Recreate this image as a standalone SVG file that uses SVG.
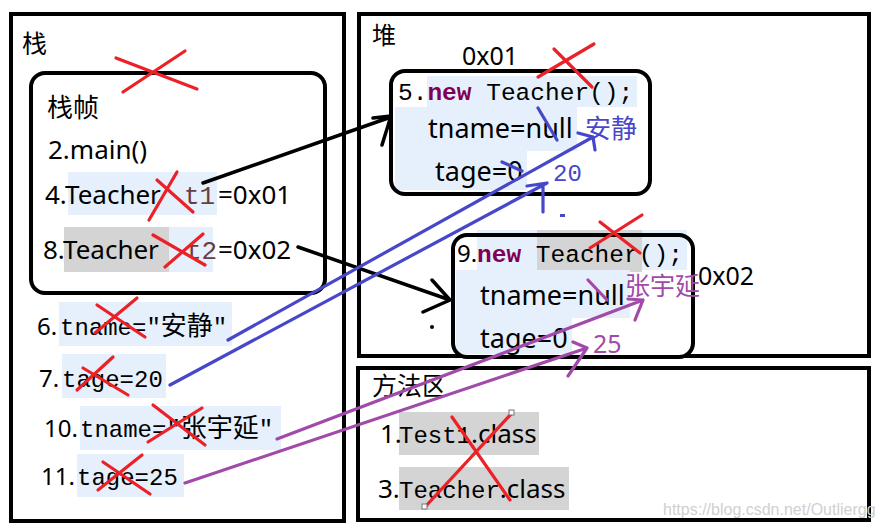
<svg xmlns="http://www.w3.org/2000/svg" width="885" height="529" viewBox="0 0 885 529">
<defs>
<style>
.box{fill:#fff;stroke:#000;stroke-width:4}
.frame{fill:none;stroke:#000;stroke-width:4}
.hl{fill:#e6f0fc}
.gr{fill:#d4d4d4}
.sans{font-family:"Noto Sans","Open Sans","Noto Sans CJK SC",sans-serif;fill:#000}
.cjk{font-family:"Noto Sans CJK SC","Noto Sans",sans-serif;fill:#000}
.mono{font-family:"Liberation Mono","DejaVu Sans Mono","Noto Sans CJK SC",monospace;fill:#000}
.kw{fill:#7f0055;font-weight:bold}
.var{fill:#6a3e3e}
.x{stroke:#ec2127;stroke-width:3.2;stroke-linecap:round;fill:none}
.blk{stroke:#000;stroke-width:3.5;fill:none;stroke-linecap:round;stroke-linejoin:round}
.blu{stroke:#4747c9;stroke-width:3.2;fill:none;stroke-linecap:round;stroke-linejoin:round}
.pur{stroke:#a14aa9;stroke-width:3.2;fill:none;stroke-linecap:round;stroke-linejoin:round}
</style>
</defs>
<rect width="885" height="529" fill="#fff"/>

<g id="stack">
<rect class="box" x="11" y="14" width="333" height="507"/>
<text class="cjk" x="22" y="53" font-size="25">栈</text>
<rect class="hl" x="59" y="302" width="173" height="44"/>
<rect class="hl" x="62" y="354" width="104" height="44"/>
<rect class="hl" x="80" y="406" width="201" height="44"/>
<rect class="hl" x="77" y="454" width="107" height="43"/>
<text y="335"><tspan class="sans" x="37" font-size="24">6.</tspan><tspan class="mono" x="60" font-size="24">tname="<tspan class="cjk" font-size="26">安静</tspan>"</tspan></text>
<text y="387"><tspan class="sans" x="39" font-size="24">7.</tspan><tspan class="mono" x="62" font-size="24">tage=20</tspan></text>
<text y="437"><tspan class="sans" x="44" font-size="24">10.</tspan><tspan class="mono" x="80" font-size="24">tname="<tspan class="cjk" font-size="26">张宇延</tspan>"</tspan></text>
<text y="485"><tspan class="sans" x="41" font-size="24">11.</tspan><tspan class="mono" x="77" font-size="24">tage=25</tspan></text>
</g>

<g id="stack-frame">
<rect class="box" x="31" y="73" width="294" height="220" rx="14"/>
<rect class="hl" x="68" y="172" width="149" height="43"/>
<rect class="gr" x="64" y="227" width="105" height="45"/>
<rect class="hl" x="169" y="227" width="44" height="45"/>
<text class="cjk" x="47" y="117" font-size="26">栈帧</text>
<text class="sans" x="48" y="159" font-size="26">2.main()</text>
<text y="204"><tspan class="sans" x="45" font-size="26">4.Teacher</tspan><tspan class="mono var" x="184" font-size="26">t1</tspan><tspan class="sans" x="218" font-size="26">=0x01</tspan></text>
<text y="259"><tspan class="sans" x="43" font-size="26">8.Teacher</tspan><tspan class="mono var" x="186" font-size="26">t2</tspan><tspan class="sans" x="218" font-size="26">=0x02</tspan></text>
</g>

<g id="heap">
<rect class="box" x="359" y="14" width="510" height="342"/>
<text class="cjk" x="372" y="44" font-size="24">堆</text>
<text class="sans" x="462" y="65" font-size="25">0x01</text>
<text class="sans" x="698" y="285" font-size="25">0x02</text>
<circle cx="432" cy="327" r="2" fill="#000"/>
</g>

<g id="teacher-0x01">
<rect fill="#fff" x="391" y="71" width="259" height="123" rx="14"/>
<rect class="hl" x="427" y="76" width="210" height="31"/>
<path class="hl" d="M395,107 H577 V151 H527 V190 H395 Z"/>
<rect class="frame" x="391" y="71" width="259" height="123" rx="14"/>
<text class="mono" x="398" y="100" font-size="24.5">5.<tspan class="kw">new</tspan> Teacher();</text>
<text class="sans" x="428" y="138" font-size="27">tname=null</text>
<text class="cjk" x="585" y="138" font-size="26" fill="#4747c9" style="fill:#4747c9">安静</text>
<text class="sans" x="435" y="181" font-size="27">tage=0</text>
<text class="mono" x="553" y="181" font-size="24" style="fill:#4747c9">20</text>
</g>

<g id="teacher-0x02">
<rect fill="#fff" x="453" y="235" width="240" height="122" rx="14"/>
<rect class="hl" x="477" y="230" width="210" height="40"/>
<rect class="gr" x="537" y="230" width="105" height="42"/>
<path class="hl" d="M456,270 H630 V318 H572 V354 H456 Z"/>
<rect class="frame" x="453" y="235" width="240" height="122" rx="14"/>
<text y="262"><tspan class="sans" x="457" font-size="24">9.</tspan><tspan class="mono" x="477" font-size="24.5"><tspan class="kw">new</tspan> Teacher();</tspan></text>
<text class="sans" x="480" y="305" font-size="27">tname=null</text>
<text class="cjk" x="625" y="295" font-size="25" style="fill:#a14aa9">张宇延</text>
<text class="sans" x="480" y="348" font-size="27">tage=0</text>
<text class="sans" x="593" y="353" font-size="25" style="fill:#a14aa9">25</text>
</g>

<g id="method-area">
<rect class="box" x="358" y="368" width="511" height="152"/>
<text class="cjk" x="372" y="395" font-size="25">方法区</text>
<rect class="gr" x="399" y="412" width="140" height="43"/>
<rect class="gr" x="399" y="467" width="170" height="43"/>
<text y="443"><tspan class="sans" x="380" font-size="26">1.</tspan><tspan class="mono" x="399" font-size="24">Test1</tspan><tspan class="sans" font-size="26">.class</tspan></text>
<text y="498"><tspan class="sans" x="378" font-size="26">3.</tspan><tspan class="mono" x="399" font-size="24">Teacher</tspan><tspan class="sans" font-size="26">.class</tspan></text>
<text x="663" y="515" font-family="Liberation Sans, Arial, sans-serif" font-size="16" fill="#cfcfcf">https://blog.csdn.net/Outliergg</text>
</g>

<g id="connectors">
<path class="blk" d="M203,183 L391,117 M373,118 L391,116 L382,145"/>
<path class="blk" d="M298,247 L450,300 M432,280 L450,300 L423,312"/>
<path class="blu" d="M228,340 L593,137 M578,133 L593,137 L595,150"/>
<path class="blu" d="M170,385 L547,183 M527,186 L547,183 M543,184 L543,212"/>
<path class="blu" d="M538,108 L557,140 M502,162 L522,171"/>
<rect x="560" y="214" width="5" height="3" fill="#4747c9"/>
<path class="pur" d="M277,439 L643,300 M628,299 L643,300 L635,320"/>
<path class="pur" d="M185,483 L587,348 M573,342 L587,348 L568,376"/>
<path class="pur" d="M588,280 L607,300"/>
</g>

<g id="strike-marks">
<path class="x" d="M116,58 L197,89 M185,51 L123,92"/>
<path class="x" d="M157,180 L193,212 M177,172 L149,220"/>
<path class="x" d="M153,235 L205,265 M203,234 L165,267"/>
<path class="x" d="M97,305 L145,337 M137,298 L95,333"/>
<path class="x" d="M77,390 L113,357 M83,368 L128,395"/>
<path class="x" d="M153,405 L205,445 M202,408 L148,442"/>
<path class="x" d="M103,462 L150,494 M142,455 L98,490"/>
<path class="x" d="M538,77 L594,44 M554,49 L592,87"/>
<path class="x" d="M600,222 L640,253 M642,215 L590,248"/>
<path class="x" d="M425,507 L512,413 M452,417 L510,500"/>
<rect x="509" y="410" width="5" height="5" fill="#fff" stroke="#777" stroke-width="1"/>
<rect x="422" y="504" width="5" height="5" fill="#fff" stroke="#777" stroke-width="1"/>
</g>
</svg>
